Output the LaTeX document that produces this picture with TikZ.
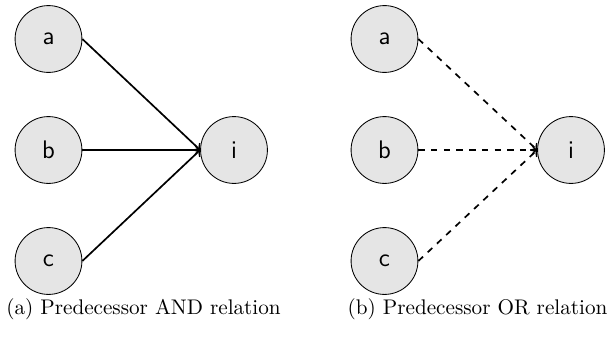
\documentclass[tikz,border=0pt]{standalone}
\usetikzlibrary{positioning}

\begin{document}
\begin{tikzpicture}[x=0.0166cm, y=-0.0166cm,
    task/.style={circle, draw, fill=gray!20, minimum size=1.11cm, inner sep=0pt, font=\sffamily\large}]
    \useasboundingbox (0,0) rectangle (612,337);

    % AND relation
    \node[task] (a) at (48.5,39) {a};
    \node[task] (b) at (48.5,150) {b};
    \node[task] (c) at (48.5,261) {c};
    \node[task] (i) at (234,150) {i};
    \foreach \n in {a,b,c} {
        \draw[->, thick] (\n.east) -- (i.west);
    }

    % OR relation
    \node[task] (a2) at (384.5,39) {a};
    \node[task] (b2) at (384.5,150) {b};
    \node[task] (c2) at (384.5,261) {c};
    \node[task] (i2) at (571,150) {i};
    \foreach \n in {a2,b2,c2} {
        \draw[->, thick, dashed] (\n.east) -- (i2.west);
    }

    % Captions
    \node[anchor=base] (capa) at (143.5,314) {(a) Predecessor AND relation};
    \node[anchor=base] (capb) at (477.5,314) {(b) Predecessor OR relation};
\end{tikzpicture}
\end{document}
